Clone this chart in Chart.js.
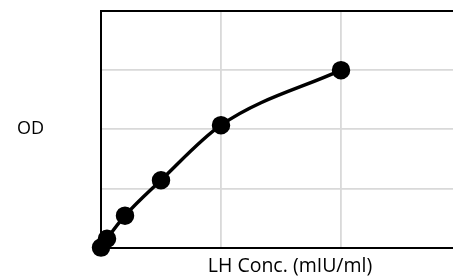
<!DOCTYPE html>
<html>
<head>
<meta charset="utf-8">
<script src="https://cdn.jsdelivr.net/npm/chart.js@4.4.0/dist/chart.umd.min.js"></script>
<style>
  html, body { margin:0; padding:0; background:#fff; overflow:hidden; }
  #chart { display:block; }
</style>
</head>
<body>
<canvas id="chart" width="498" height="278"></canvas>
<script>
// LH standard curve
const concValues = [0, 5, 20, 50, 100, 200];
const odValues = [0, 0.15, 0.54, 1.14, 2.07, 3.0];
const xTitle = "LH Conc. (mIU/ml)";
const yTitle = "OD";

const points = concValues.map((c, i) => ({ x: c, y: odValues[i] }));
const font = "'Open Sans', sans-serif";

new Chart(document.getElementById("chart"), {
  type: 'line',
  data: {
    datasets: [{
      data: points,
      borderColor: "#000",
      backgroundColor: "#000",
      borderWidth: 3.5,
      pointRadius: 7.5,
      pointHoverRadius: 7.5,
      cubicInterpolationMode: 'monotone',
      clip: false
    }]
  },
  options: {
    animation: false,
    responsive: false,
    layout: { padding: { top: 9, right: 19, bottom: 0, left: 17 } },
    plugins: { legend: { display: false }, tooltip: { enabled: false } },
    scales: {
      x: {
        type: 'linear', min: 0, max: 315,
        ticks: { display: false, stepSize: 100 },
        grid: { color: "#d9d9d9", lineWidth: 1.8, drawTicks: false },
        border: { color: "#000", width: 2 },
        title: { display: true, text: xTitle, color: "#000", font: { family: font, size: 19.5 }, padding: { top: 7, bottom: 0 } }
      },
      x2: {
        type: 'linear', position: 'top', min: 0, max: 315,
        ticks: { display: false },
        grid: { display: false, drawTicks: false },
        border: { color: "#000", width: 2 }
      },
      y: {
        min: 0, max: 4,
        ticks: {
          stepSize: 1, color: "#000", padding: 0, crossAlign: 'far',
          font: { family: font, size: 18 },
          callback: v => v === 2 ? yTitle : ''
        },
        grid: { color: "#d9d9d9", lineWidth: 1.8, drawTicks: false },
        border: { color: "#000", width: 2 },
        afterFit: s => { s.width = 84; s.paddingTop = 0; s.paddingBottom = 0; }
      }
    }
  }
});
</script>
</body>
</html>
